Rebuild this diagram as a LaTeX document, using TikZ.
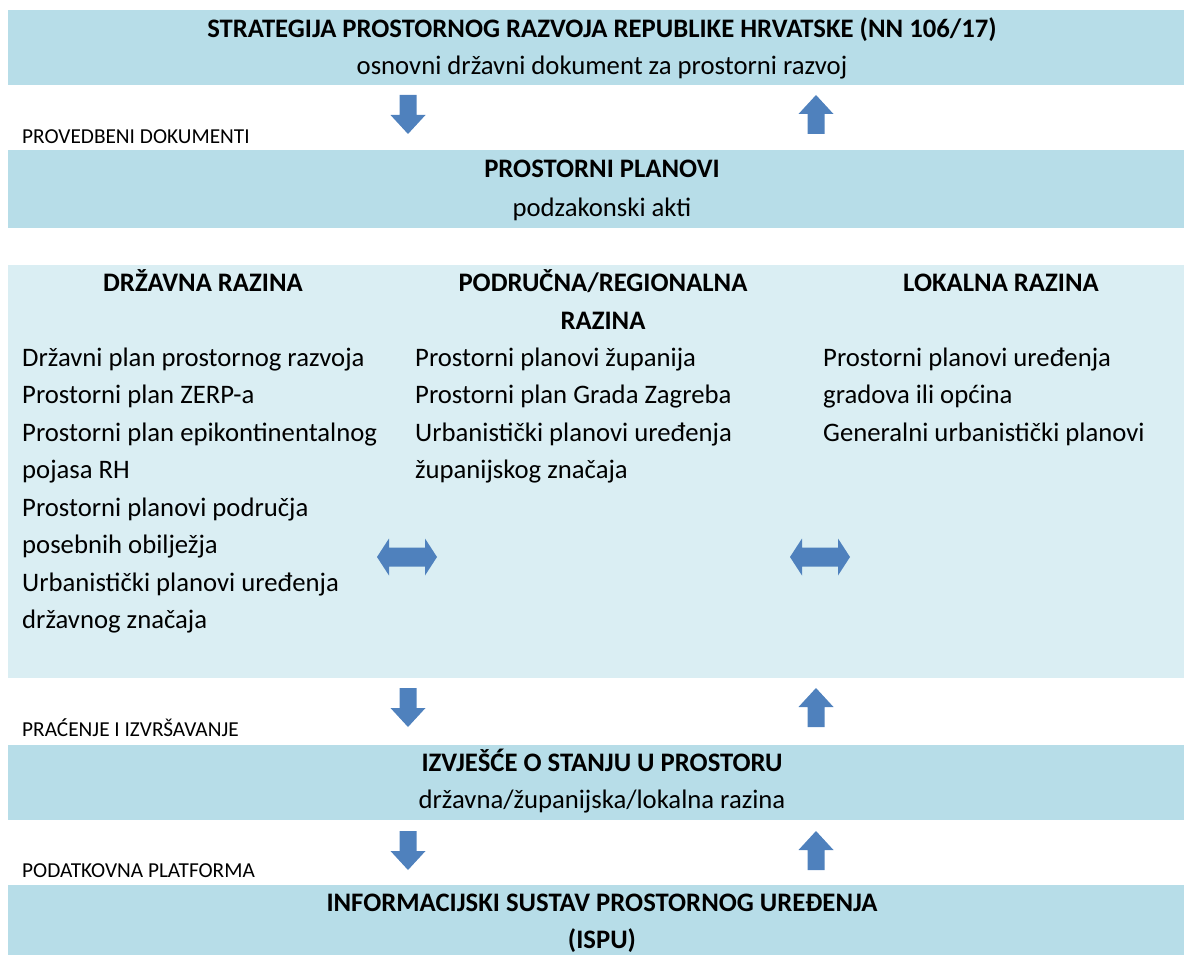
\documentclass[tikz,border=0pt]{standalone}
\usepackage{fontspec}
\setmainfont{Carlito}
\definecolor{bandc}{HTML}{B7DDE8}
\definecolor{panelc}{HTML}{DAEEF3}
\definecolor{arrc}{HTML}{4F81BD}
\tikzset{
  band/.style={fill=bandc, draw=none, inner sep=0pt, anchor=north west, minimum width=1176pt},
  panel/.style={fill=panelc, draw=none, inner sep=0pt, anchor=north west, minimum width=1176pt},
  txt/.style={inner sep=0pt, font=\fontsize{26.7}{37.5}\selectfont},
  head/.style={txt, font=\fontsize{26.7}{37.5}\selectfont\bfseries},
  lbl/.style={inner sep=0pt, anchor=base west, font=\fontsize{21.3}{26}\selectfont},
  pics/downarr/.style={code={\fill[arrc] (-8.5,0) -- (8.5,0) -- (8.5,20) -- (17.5,20) -- (0,39) -- (-17.5,20) -- (-8.5,20) -- cycle;}},
  pics/uparr/.style={code={\fill[arrc] (-8.5,39) -- (8.5,39) -- (8.5,19) -- (17.5,19) -- (0,0) -- (-17.5,19) -- (-8.5,19) -- cycle;}},
  pics/dblarr/.style={code={\fill[arrc] (-30,0) -- (-18,-18.5) -- (-18,-9.5) -- (18,-9.5) -- (18,-18.5) -- (30,0) -- (18,18.5) -- (18,9.5) -- (-18,9.5) -- (-18,18.5) -- cycle;}},
}
\begin{document}
\begin{tikzpicture}[x=1pt,y=-1pt]
\useasboundingbox (0,0) rectangle (1184,955);
% bands
\node[band, minimum height=75pt] (strat) at (8,10) {};
\node[band, minimum height=78pt] (plans) at (8,150) {};
\node[panel, minimum height=413pt] (levels) at (8,265) {};
\node[band, minimum height=75pt] (izvj) at (8,745) {};
\node[band, minimum height=70pt] (ispu) at (8,885) {};
% band texts
\node[head, anchor=base] (t1) at (602,38) {STRATEGIJA PROSTORNOG RAZVOJA REPUBLIKE HRVATSKE (NN 106/17)};
\node[txt, anchor=base] (t1b) at (602,75) {osnovni državni dokument za prostorni razvoj};
\node[head, anchor=base] (t2) at (602,178) {PROSTORNI PLANOVI};
\node[txt, anchor=base] (t2b) at (602,216) {podzakonski akti};
\node[head, anchor=base] (t3) at (602,771) {IZVJEŠĆE O STANJU U PROSTORU};
\node[txt, anchor=base] (t3b) at (602,808) {državna/županijska/lokalna razina};
\node[head, anchor=base] (t4) at (602,911) {INFORMACIJSKI SUSTAV PROSTORNOG UREĐENJA};
\node[head, anchor=base] (t4b) at (602,948) {(ISPU)};
% side labels
\node[lbl] (l1) at (22,144) {PROVEDBENI DOKUMENTI};
\node[lbl] (l2) at (22,736) {PRAĆENJE I IZVRŠAVANJE};
\node[lbl] (l3) at (22,877) {PODATKOVNA PLATFORMA};
% column heads
\node[head, anchor=base] (h1) at (203,291) {DRŽAVNA RAZINA};
\node[head, anchor=base] (h2) at (603,291) {PODRUČNA/REGIONALNA};
\node[head, anchor=base] (h2b) at (603,329) {RAZINA};
\node[head, anchor=base] (h3) at (1001,291) {LOKALNA RAZINA};
% column bodies
\foreach \t [count=\i from 0] in {Državni plan prostornog razvoja, Prostorni plan ZERP-a, Prostorni plan epikontinentalnog, pojasa RH, Prostorni planovi područja, posebnih obilježja, Urbanistički planovi uređenja, državnog značaja}
  \node[txt, anchor=base west] (c1-\i) at (22,366+37.5*\i) {\t};
\foreach \t [count=\i from 0] in {Prostorni planovi županija, Prostorni plan Grada Zagreba, Urbanistički planovi uređenja, županijskog značaja}
  \node[txt, anchor=base west] (c2-\i) at (415,366+37.5*\i) {\t};
\foreach \t [count=\i from 0] in {Prostorni planovi uređenja, gradova ili općina, Generalni urbanistički planovi}
  \node[txt, anchor=base west] (c3-\i) at (823,366+37.5*\i) {\t};
% arrows
\pic at (408,95) {downarr};
\pic at (816,95) {uparr};
\pic at (408,688) {downarr};
\pic at (816,688) {uparr};
\pic at (408,831) {downarr};
\pic at (816,831) {uparr};
\pic at (407,557) {dblarr};
\pic at (820,557) {dblarr};
\end{tikzpicture}
\end{document}
